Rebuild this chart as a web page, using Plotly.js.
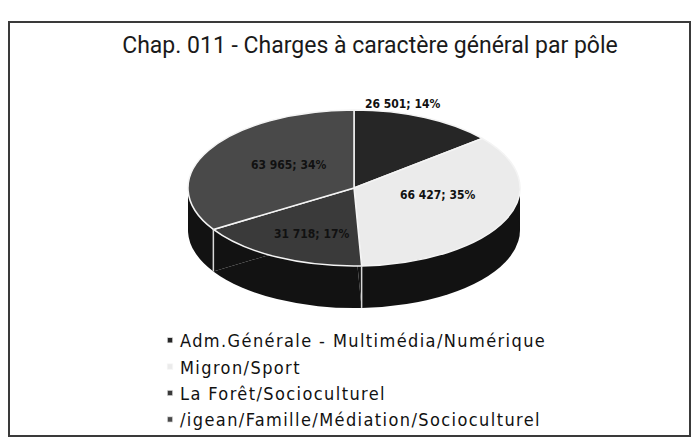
<!DOCTYPE html>
<html>
<head>
<meta charset="utf-8">
<script src="https://cdn.plot.ly/plotly-3.0.1.min.js"></script>
<style>
  html, body { margin: 0; padding: 0; background: #ffffff; }
  #chart { width: 696px; height: 447px; }
</style>
</head>
<body>
<div id="chart"></div>
<script>
// ---- data ----
var categories = [
  "Adm.Générale - Multimédia/Numérique",
  "Migron/Sport",
  "La Forêt/Socioculturel",
  "/igean/Famille/Médiation/Socioculturel"
];
var values = [26501, 66427, 31718, 63965];
var chartTitle = "Chap. 011 - Charges à caractère général par pôle";

// ---- styling ----
var sliceColors = ["#262626", "#ebebeb", "#3a3a3a", "#494949"];
var sideColor = "#121212";

var W = 696, H = 447;
// target ellipse geometry (pixels)
var cx = 354, cyTop = 188, R = 166, ry = 78, depth = 42;
var k = ry / R;

// pre-squash pie domain (circle of radius R centred at cx, cyPre)
var cyPre = 223;
var dom = {
  x: [(cx - R) / W, (cx + R) / W],
  y: [1 - (cyPre + R) / H, 1 - (cyPre - R) / H]
};

var total = values.reduce(function (a, b) { return a + b; }, 0);
function fmt(v) { return String(v).replace(/\B(?=(\d{3})+(?!\d))/g, " "); }

// labels positioned from the data (slice mid-angles on the ellipse)
var annotations = [];
var sideLines = [];
var cum = 0;
values.forEach(function (v, i) {
  var frac = v / total;
  // boundary at the start of this slice: visible on the front side wall?
  var a0 = cum * 2 * Math.PI;
  if (-Math.cos(a0) > 0.05) {
    var bx = cx + R * Math.sin(a0), by = cyTop - ry * Math.cos(a0);
    sideLines.push({ type: "line", xref: "paper", yref: "paper", layer: "above",
      x0: bx / W, x1: bx / W, y0: 1 - by / H, y1: 1 - (by + depth) / H,
      line: { color: "#d8d8d8", width: 1.5 } });
  }
  var mid = (cum + frac / 2) * 2 * Math.PI;
  cum += frac;
  var r = frac < 0.15 ? 1.15 : (i === 3 ? 0.45 : 0.55);
  var px = cx + r * R * Math.sin(mid) - (frac < 0.15 ? 33 : 0);
  var py = cyTop - r * ry * Math.cos(mid) + (i === 2 ? 8 : (i === 1 ? -10 : (i === 3 ? -6 : -3)));
  annotations.push({
    xref: "paper", yref: "paper",
    x: px / W, y: 1 - py / H,
    xanchor: "center", yanchor: "middle",
    showarrow: false,
    text: "<b>" + fmt(v) + "; " + Math.round(frac * 100) + "%</b>",
    font: { family: "Liberation Sans Narrow, DejaVu Sans Condensed, Arial Narrow, sans-serif", size: 12, color: "#111111" }
  });
});

var side = {
  type: "pie",
  labels: categories,
  values: values,
  sort: false,
  direction: "clockwise",
  rotation: 0,
  textinfo: "none",
  hoverinfo: "skip",
  showlegend: false,
  domain: dom,
  marker: { colors: categories.map(function () { return sideColor; }), line: { color: sideColor, width: 0 } }
};
var top_ = {
  type: "pie",
  labels: categories,
  values: values,
  sort: false,
  direction: "clockwise",
  rotation: 0,
  textinfo: "none",
  hoverinfo: "label+value+percent",
  domain: dom,
  marker: { colors: sliceColors, line: { color: "#f4f4f4", width: 1.5 } }
};

var layout = {
  width: W, height: H,
  margin: { l: 0, r: 0, t: 0, b: 0 },
  paper_bgcolor: "#ffffff",
  title: {
    text: chartTitle,
    font: { family: "Roboto, Arial, sans-serif", size: 23, color: "#1a1a1a" },
    x: 370 / W, xanchor: "center", xref: "paper",
    y: 1 - 45 / H, yanchor: "middle", yref: "paper"
  },
  showlegend: true,
  legend: {
    orientation: "v",
    x: 140 / W, xanchor: "left",
    y: 1 - 322 / H, yanchor: "top",
    bgcolor: "rgba(0,0,0,0)",
    font: { family: "Liberation Sans Narrow, DejaVu Sans Condensed, Arial Narrow, sans-serif", size: 18, color: "#111111" },
    tracegroupgap: 0
  },
  annotations: annotations,
  shapes: [
    { type: "rect", xref: "paper", yref: "paper", layer: "below",
      x0: (cx - R) / W, x1: (cx + R) / W, y0: 1 - (cyTop + depth) / H, y1: 1 - cyTop / H,
      fillcolor: sideColor, line: { width: 0 } },
    { type: "rect", xref: "paper", yref: "paper", layer: "above",
      x0: 9 / W, x1: 690 / W, y0: 1 - 436 / H, y1: 1 - 22 / H,
      fillcolor: "rgba(0,0,0,0)", line: { color: "#3a3a3a", width: 2 } }
  ].concat(sideLines)
};

Plotly.newPlot("chart", [side, top_], layout, { displayModeBar: false, staticPlot: true }).then(function (gd) {
  var traces = gd.querySelectorAll(".pielayer g.trace");
  var offs = [cyTop + depth, cyTop];
  traces.forEach(function (g, i) {
    g.setAttribute("transform", "translate(0," + offs[i] + ") scale(1," + k + ") translate(0," + (-cyPre) + ")");
    g.querySelectorAll("path").forEach(function (p) { p.setAttribute("vector-effect", "non-scaling-stroke"); });
  });
  gd.querySelectorAll(".legend path.legendpie").forEach(function (p) {
    p.setAttribute("transform", "translate(30,0) scale(0.45)");
  });
  gd.querySelectorAll(".legend [clip-path]").forEach(function (el) { el.removeAttribute("clip-path"); });
  gd.querySelectorAll(".legend text.legendtext").forEach(function (t) {
    t.style.letterSpacing = "1.4px";
  });
});
</script>
</body>
</html>
